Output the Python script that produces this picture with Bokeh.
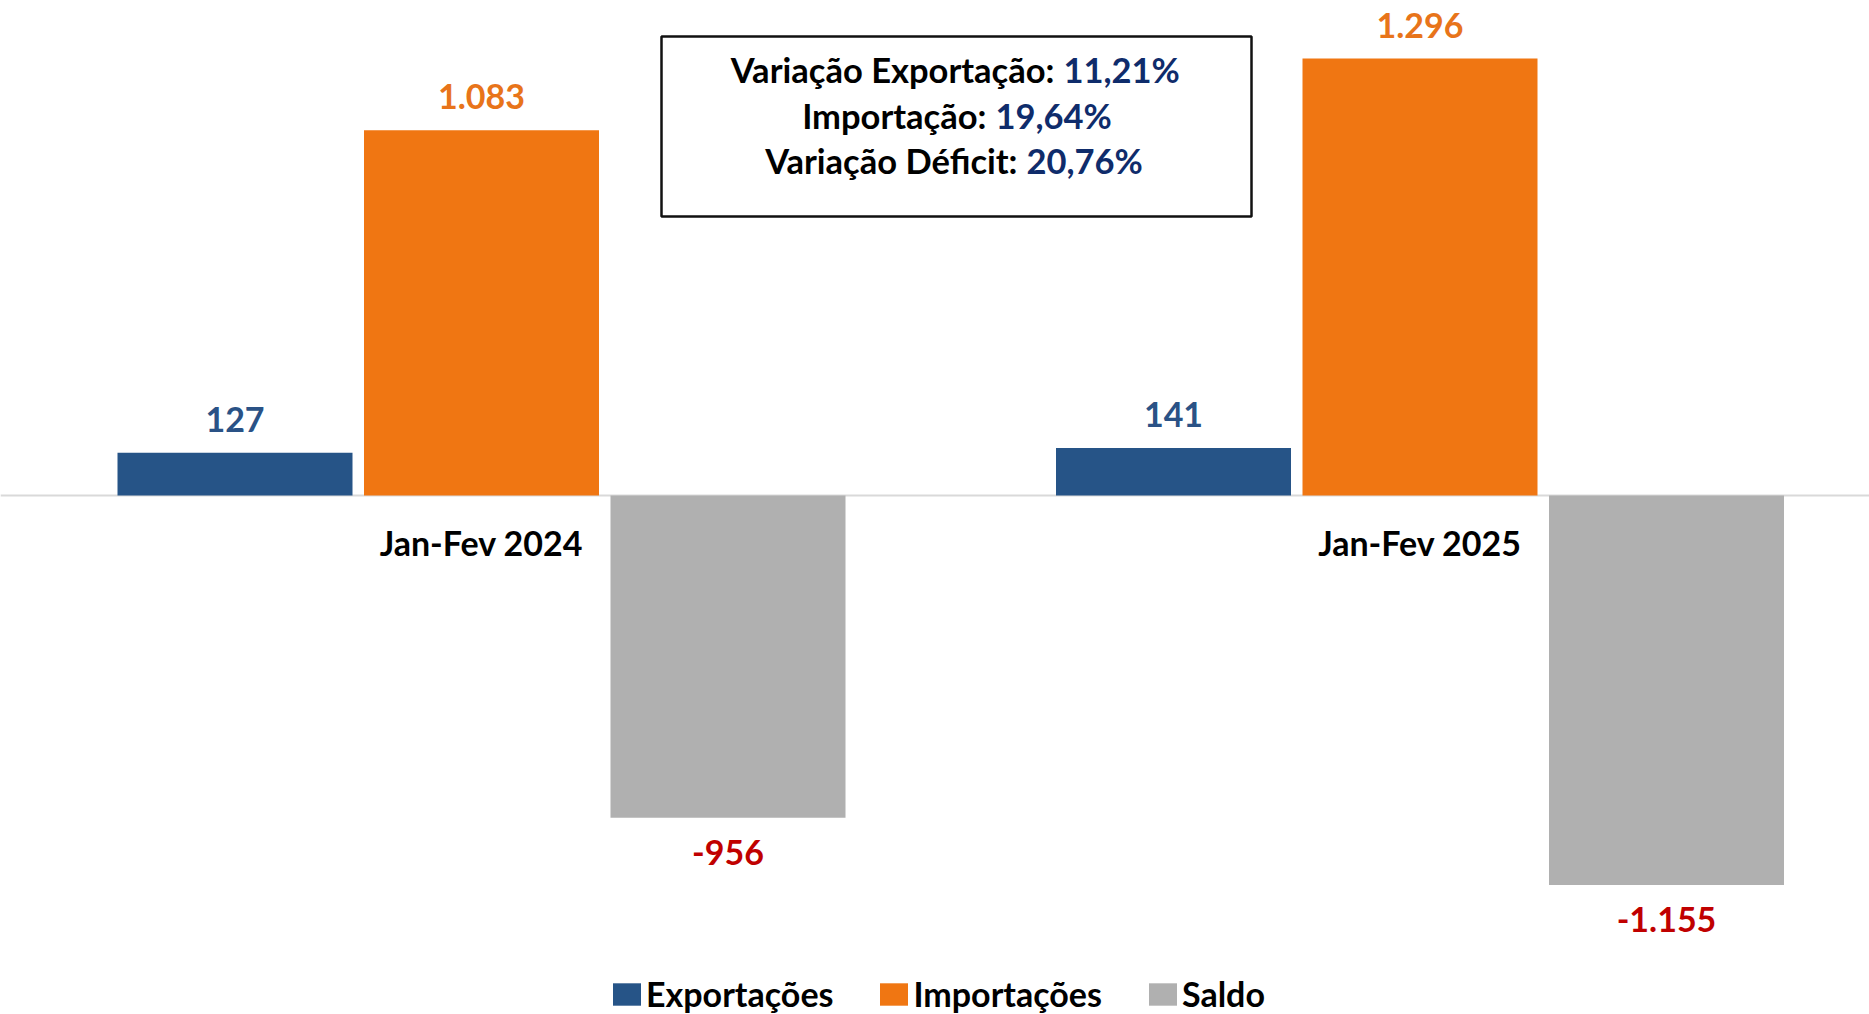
from bokeh.plotting import figure
from bokeh.models import ColumnDataSource, Range1d, Span, BoxAnnotation, Legend, LegendItem
from bokeh.transform import dodge
from bokeh.core.properties import value
from bokeh.embed import file_html
from bokeh.resources import INLINE

# ---------------- data ----------------
periods = ["Jan-Fev 2024", "Jan-Fev 2025"]
exportacoes = [127, 141]
importacoes = [1083, 1296]
saldo = [-956, -1155]
series_names = ["Exportações", "Importações", "Saldo"]
box_labels = ["Variação Exportação:", "Importação:", "Variação Déficit:"]
box_values = ["11,21%", "19,64%", "20,76%"]

# ---------------- style ----------------
W, H = 1869, 1014
FONT_NAME = "Lato"
FONT = value(FONT_NAME)
C_EXP, C_IMP, C_SAL = "#265487", "#F07612", "#B0B0B0"
C_EXP_T, C_IMP_T, C_NEG_T = "#2A5286", "#E8741A", "#C00000"
C_NAVY = "#0F2C6B"

# pixel geometry of the frame
zero_px = 495.0
px_per_unit_y = 437.0 / 1296.0
group0_px = 481.0
group_step_px = 938.5

def x_of(px):
    return (px - group0_px) / group_step_px

def y_of(py):
    return (zero_px - py) / px_per_unit_y

p = figure(width=W, height=H, output_backend="svg", toolbar_location=None,
           x_range=Range1d(x_of(0), x_of(W)), y_range=Range1d(y_of(H), y_of(0)),
           min_border=0, min_border_left=0, min_border_right=0,
           min_border_top=0, min_border_bottom=0)
p.axis.visible = False
p.grid.visible = False
p.outline_line_color = None
p.background_fill_color = "white"
p.border_fill_color = "white"

xs = list(range(len(periods)))
src = ColumnDataSource(dict(
    x=xs, period=periods,
    exp=exportacoes, imp=importacoes, sal=saldo,
    exp_t=[f"{v:,}".replace(",", ".") for v in exportacoes],
    imp_t=[f"{v:,}".replace(",", ".") for v in importacoes],
    sal_t=[f"{v:,}".replace(",", ".") for v in saldo],
))

bw = 235.0 / group_step_px
off = 246.5 / group_step_px

p.add_layout(Span(location=0, dimension="width", line_color="#D9D9D9", line_width=2,
                  level="underlay"))

r_exp = p.vbar(x=dodge("x", -off), top="exp", bottom=0, width=bw, source=src,
               fill_color=C_EXP, line_color=None)
r_imp = p.vbar(x=dodge("x", 0), top="imp", bottom=0, width=bw, source=src,
               fill_color=C_IMP, line_color=None)
r_sal = p.vbar(x=dodge("x", off), top=0, bottom="sal", width=bw, source=src,
               fill_color=C_SAL, line_color=None)

LBL = "34px"
p.text(x=dodge("x", -off), y="exp", text="exp_t", source=src, text_font=FONT,
       text_font_size=LBL, text_font_style="bold", text_color=C_EXP_T,
       text_align="center", text_baseline="bottom", y_offset=-21)
p.text(x=dodge("x", 0), y="imp", text="imp_t", source=src, text_font=FONT,
       text_font_size=LBL, text_font_style="bold", text_color=C_IMP_T,
       text_align="center", text_baseline="bottom", y_offset=-21)
p.text(x=dodge("x", off), y="sal", text="sal_t", source=src, text_font=FONT,
       text_font_size=LBL, text_font_style="bold", text_color=C_NEG_T,
       text_align="center", text_baseline="top", y_offset=22)
# category labels below the zero line
p.text(x="x", y=0, text="period", source=src, text_font=FONT,
       text_font_size=LBL, text_font_style="bold", text_color="black",
       text_align="center", text_baseline="middle", y_offset=47)

# annotation box
p.add_layout(BoxAnnotation(left=x_of(661), right=x_of(1251), top=y_of(36), bottom=y_of(216),
                           fill_color="white", fill_alpha=1.0,
                           line_color="#111111", line_alpha=1.0, line_width=2.5,
                           level="underlay"))
line_py = [69, 115, 160]
split_px = [1063, 995, 1026]
box_src = ColumnDataSource(dict(
    xl=[x_of(s - 9) for s in split_px], xr=[x_of(s) for s in split_px],
    y=[y_of(v) for v in line_py], lab=box_labels, val=box_values))
BOXF = "34.5px"
p.text(x="xl", y="y", text="lab", source=box_src, text_font=FONT, text_font_size=BOXF,
       text_font_style="bold", text_color="black", text_align="right", text_baseline="middle")
p.text(x="xr", y="y", text="val", source=box_src, text_font=FONT, text_font_size=BOXF,
       text_font_style="bold", text_color=C_NAVY, text_align="left", text_baseline="middle")

legend = Legend(items=[LegendItem(label=series_names[0], renderers=[r_exp]),
                       LegendItem(label=series_names[1], renderers=[r_imp]),
                       LegendItem(label=series_names[2], renderers=[r_sal])],
                orientation="horizontal", location=(605, -4),
                label_text_font=FONT_NAME, label_text_font_size=LBL, label_text_font_style="bold",
                label_text_color="black", glyph_width=35, glyph_height=28,
                label_standoff=2, spacing=43, padding=4, margin=0,
                border_line_alpha=0, background_fill_alpha=0)
p.add_layout(legend)

open("out.html", "w").write(file_html(p, INLINE))
